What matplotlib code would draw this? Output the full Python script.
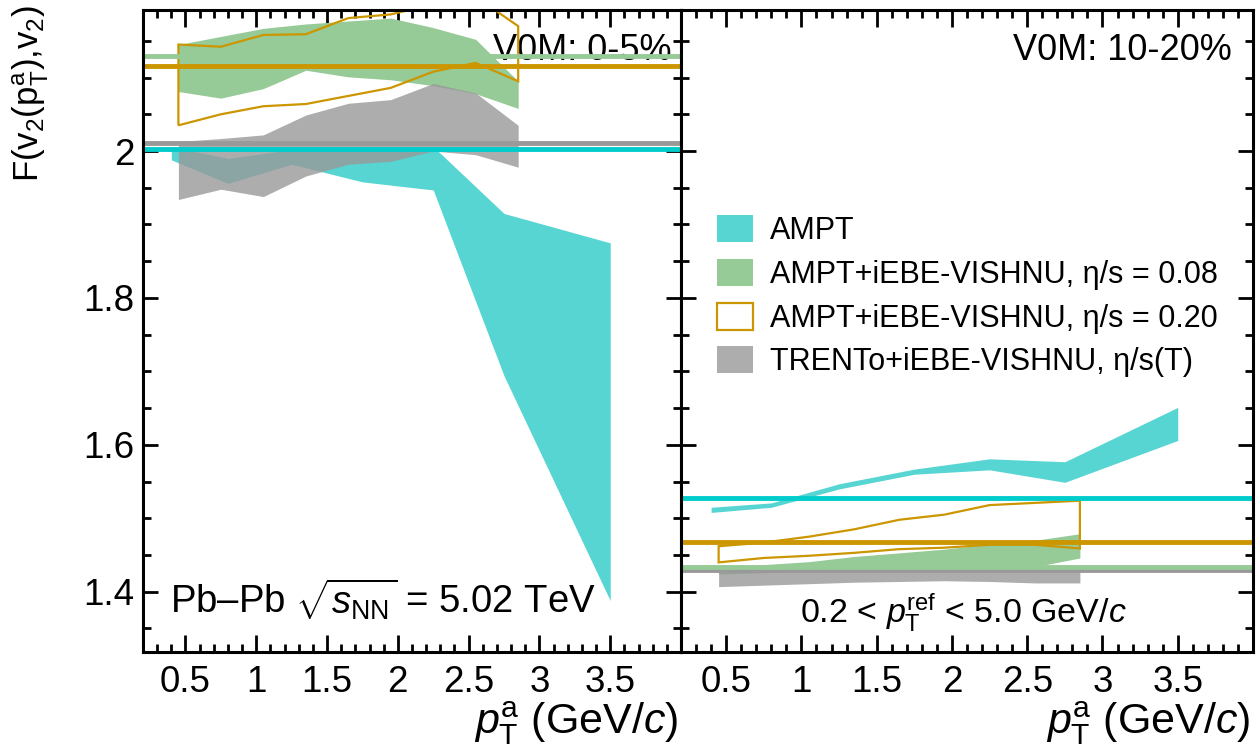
import matplotlib
matplotlib.use('Agg')
import matplotlib.pyplot as plt
import numpy as np
from matplotlib.ticker import MultipleLocator, FormatStrFormatter
from matplotlib.patches import Patch

plt.rcParams['font.family'] = ['Liberation Sans', 'DejaVu Sans']
plt.rcParams['mathtext.fontset'] = 'custom'
plt.rcParams['mathtext.rm'] = 'Liberation Sans'
plt.rcParams['mathtext.it'] = 'Liberation Sans:italic'
plt.rcParams['mathtext.bf'] = 'Liberation Sans:bold'

# pT points
pt_ampt = [0.4, 0.8, 1.25, 1.75, 2.25, 2.75, 3.5]
pt_hydro = [0.45, 0.75, 1.05, 1.35, 1.65, 1.95, 2.25, 2.55, 2.85]

# V0M 0-5%
ampt_lo_05 = [1.988, 1.956, 1.982, 1.958, 1.947, 1.694, 1.388]
ampt_hi_05 = [2.006, 1.990, 2.002, 2.004, 2.006, 1.915, 1.875]
eta008_lo_05 = [2.081, 2.072, 2.085, 2.110, 2.101, 2.097, 2.089, 2.078, 2.058]
eta008_hi_05 = [2.145, 2.156, 2.167, 2.173, 2.177, 2.181, 2.168, 2.152, 2.095]
eta020_lo_05 = [2.035, 2.050, 2.061, 2.064, 2.075, 2.086, 2.108, 2.120, 2.095]
eta020_hi_05 = [2.145, 2.142, 2.158, 2.159, 2.181, 2.186, 2.200, 2.210, 2.170]
trento_lo_05 = [1.934, 1.948, 1.938, 1.966, 1.982, 1.986, 2.000, 1.995, 1.978]
trento_hi_05 = [2.013, 2.017, 2.022, 2.049, 2.065, 2.070, 2.092, 2.079, 2.035]

# V0M 10-20%
ampt_lo_1020 = [1.508, 1.515, 1.540, 1.560, 1.566, 1.549, 1.606]
ampt_hi_1020 = [1.515, 1.521, 1.547, 1.567, 1.581, 1.577, 1.651]
eta008_lo_1020 = [1.424, 1.426, 1.428, 1.429, 1.430, 1.431, 1.432, 1.434, 1.446]
eta008_hi_1020 = [1.432, 1.437, 1.441, 1.448, 1.453, 1.458, 1.465, 1.470, 1.479]
eta020_lo_1020 = [1.440, 1.446, 1.449, 1.453, 1.458, 1.460, 1.464, 1.464, 1.459]
eta020_hi_1020 = [1.462, 1.467, 1.475, 1.485, 1.498, 1.505, 1.518, 1.521, 1.524]
trento_lo_1020 = [1.407, 1.409, 1.411, 1.413, 1.414, 1.415, 1.414, 1.412, 1.412]
trento_hi_1020 = [1.430, 1.431, 1.432, 1.433, 1.434, 1.434, 1.432, 1.430, 1.430]

# pT-integrated values (0-5%, 10-20%)
mean_ampt = [2.003, 1.528]
mean_eta008 = [2.129, 1.434]
mean_eta020 = [2.116, 1.468]
mean_trento = [2.011, 1.430]

labels = ['AMPT', 'AMPT+iEBE-VISHNU, η/s = 0.08',
          'AMPT+iEBE-VISHNU, η/s = 0.20', 'TRENTo+iEBE-VISHNU, η/s(T)']

c_ampt = '#57d5d2'
c_ampt_line = '#00cccc'
c_green = '#96ca96'
c_orange = '#cc9600'
c_gray = '#999999'

fig = plt.figure(figsize=(12.56, 7.55), dpi=100)
axL = fig.add_axes([143/1256, 1-652/755, (681-143)/1256, 642/755])
axR = fig.add_axes([681/1256, 1-652/755, (1253-681)/1256, 642/755])

panels = [
    (axL, ampt_lo_05, ampt_hi_05, eta008_lo_05, eta008_hi_05, eta020_lo_05, eta020_hi_05, trento_lo_05, trento_hi_05, 0),
    (axR, ampt_lo_1020, ampt_hi_1020, eta008_lo_1020, eta008_hi_1020, eta020_lo_1020, eta020_hi_1020, trento_lo_1020, trento_hi_1020, 1),
]

for ax, alo, ahi, glo, ghi, olo, ohi, tlo, thi, i in panels:
    ax.fill_between(pt_ampt, alo, ahi, color=c_ampt, lw=0, zorder=1)
    ax.fill_between(pt_hydro, glo, ghi, color=c_green, lw=0, zorder=2)
    ax.fill_between(pt_hydro, tlo, thi, color=c_gray, alpha=0.8, lw=0, zorder=3)
    ax.fill(np.concatenate([pt_hydro, pt_hydro[::-1]]), np.concatenate([olo, ohi[::-1]]),
            facecolor='none', edgecolor=c_orange, lw=1.6, zorder=4)
    ax.axhline(mean_trento[i], color=c_gray, lw=3.5, zorder=5)
    ax.axhline(mean_ampt[i], color=c_ampt_line, lw=3.5, zorder=5)
    ax.axhline(mean_eta008[i], color=c_green, lw=3.5, zorder=5)
    ax.axhline(mean_eta020[i], color=c_orange, lw=3.5, zorder=5)

    ax.set_xlim(0.2, 4.0)
    ax.set_ylim(1.318, 2.192)
    ax.set_xticks(np.arange(0.5, 3.6, 0.5))
    ax.xaxis.set_minor_locator(MultipleLocator(0.1))
    ax.yaxis.set_major_locator(MultipleLocator(0.2))
    ax.yaxis.set_minor_locator(MultipleLocator(0.05))
    ax.xaxis.set_major_formatter(FormatStrFormatter('%g'))
    ax.yaxis.set_major_formatter(FormatStrFormatter('%g'))
    ax.tick_params(which='both', direction='in', top=True, right=True, width=2, labelsize=26.5)
    ax.tick_params(axis='x', which='major', length=12, pad=9)
    ax.tick_params(axis='x', which='minor', length=6)
    ax.tick_params(axis='y', which='major', length=11, pad=6)
    ax.tick_params(axis='y', which='minor', length=5.5)
    for s in ax.spines.values():
        s.set_linewidth(2.2)
        s.set_zorder(10)
    ax.text(0.995, -0.127, r'$p_{\mathrm{T}}^{\mathrm{a}}$ (GeV/$c$)', transform=ax.transAxes,
            ha='right', va='baseline', fontsize=31)

axR.tick_params(axis='y', labelleft=False)

axL.text(0.983, 0.922, 'V0M: 0-5%', transform=axL.transAxes, ha='right', va='baseline', fontsize=26)
axR.text(0.963, 0.922, 'V0M: 10-20%', transform=axR.transAxes, ha='right', va='baseline', fontsize=26)
axL.text(0.05, 0.059, r'Pb–Pb $\sqrt{s_{\mathrm{NN}}}$ = 5.02 TeV', transform=axL.transAxes,
         ha='left', va='baseline', fontsize=27.5)
axR.text(0.208, 0.045, r'0.2 < $p_{\mathrm{T}}^{\mathrm{ref}}$ < 5.0 GeV/$c$', transform=axR.transAxes,
         ha='left', va='baseline', fontsize=24.5)

fig.text(0.009, 0.993, r'$\mathrm{F(v_{2}(p_{T}^{a}){,}v_{2})}$', rotation=90,
         ha='left', va='top', fontsize=25)

handles = [Patch(facecolor=c_ampt, edgecolor='none'),
           Patch(facecolor=c_green, edgecolor='none'),
           Patch(facecolor='white', edgecolor=c_orange, lw=1.6),
           Patch(facecolor=c_gray, alpha=0.8, edgecolor='none')]
axR.legend(handles, labels, loc='upper left', bbox_to_anchor=(717/1256, 1-215/755),
           bbox_transform=fig.transFigure, frameon=False, borderpad=0, borderaxespad=0,
           handlelength=1.18, handleheight=0.98, handletextpad=0.55, labelspacing=0.42,
           fontsize=22)

fig.savefig('out.png', dpi=100)
